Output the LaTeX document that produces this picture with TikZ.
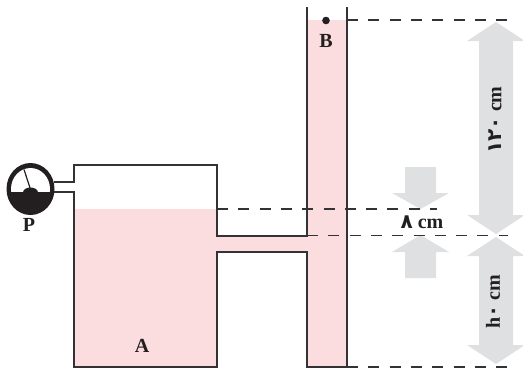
\documentclass[tikz,border=0pt]{standalone}
\usepackage{fontspec}
\setmainfont{Liberation Serif}
\newfontfamily\digitfont{DejaVu Sans}
\definecolor{fluid}{HTML}{FBDDE0}
\definecolor{arrowgray}{HTML}{DFE0E2}
\definecolor{wall}{HTML}{333335}
\definecolor{ink}{HTML}{231F20}

\newcommand{\updown}[6]{% x, tip, head base, shaft end, half head, half shaft
    \fill[arrowgray] (#1,#2) -- (#1+#5,#3) -- (#1+#6,#3) -- (#1+#6,#4)
        -- (#1-#6,#4) -- (#1-#6,#3) -- (#1-#5,#3) -- cycle;
}

\begin{document}
\begin{tikzpicture}[x=1pt,y=-1pt,
    wallline/.style={draw=wall,line width=1.4pt},
    levelline/.style={draw=wall,line width=1.2pt,dash pattern=on 11pt off 10.3pt},
    letter/.style={font=\fontsize{20}{20}\selectfont\bfseries,text=ink,inner sep=0pt},
    sizelabel/.style={font=\fontsize{20}{20}\selectfont\bfseries,text=ink,inner sep=0pt}]
    \useasboundingbox (0,0) rectangle (523,368);

    % fluid
    \fill[fluid] (74,209) -- (217,209) -- (217,236) -- (307,236) -- (307,20) -- (347,20)
        -- (347,367) -- (307,367) -- (307,252) -- (217,252) -- (217,367) -- (74,367) -- cycle;

    % gray arrows
    \updown{496}{22}{41}{125}{29}{17}
    \updown{496}{234}{215}{125}{29}{17}
    \updown{496}{237}{256}{300}{29}{17}
    \updown{496}{364}{345}{300}{29}{17}
    \updown{420.5}{209}{193}{167}{28.5}{15.5}
    \updown{420.5}{235}{252}{278}{28.5}{15.5}

    % level lines
    \coordinate (topL) at (347,20);
    \coordinate (topR) at (508,20);
    \coordinate (liqL) at (217,209);
    \coordinate (liqR) at (437,209);
    \coordinate (pipeL) at (307,235.5);
    \coordinate (pipeR) at (508,235.5);
    \coordinate (botL) at (347,367);
    \coordinate (botR) at (508,367);
    \draw[levelline] (topL) -- (topR);
    \draw[levelline] (liqL) -- (liqR);
    \draw[levelline] (pipeL) -- (pipeR);
    \draw[levelline] (botL) -- (botR);

    % vessel walls
    \draw[wallline] (54,182) -- (74,182) -- (74,165) -- (217,165) -- (217,236) -- (307,236) -- (307,7);
    \draw[wallline] (54,192) -- (74,192) -- (74,367) -- (217,367) -- (217,252) -- (307,252) -- (307,367) -- (347,367);
    \draw[wallline] (347,7) -- (347,367);

    % gauge
    \fill[ink] (30.5,189) ellipse (24 and 26);
    \fill[white] (30.5,189) ellipse (19.5 and 21);
    \begin{scope}
        \clip (30.5,189) ellipse (20 and 21.5);
        \fill[ink] (5,192) rectangle (56,212);
        \fill[ink] (30.5,192.5) ellipse (7.5 and 5);
    \end{scope}
    \foreach \ang in {24,48,72,90,135,157} {
        \draw[ink,line width=1.7pt] ([shift={(\ang:12.5)}]30.5,189) -- ([shift={(\ang:19)}]30.5,189);
    }
    \draw[ink,line width=1.2pt] (30.7,190) -- (24,169.5);

    % point B
    \fill[ink] (326,20.5) circle (3.8);

    % labels
    \node[letter] (P) at (29,225) {P};
    \node[letter] (A) at (142,346) {A};
    \node[letter] (B) at (326,41) {B};
    \node[sizelabel] (small) at (422,222) {{\digitfont ۸} cm};
    \node[sizelabel,rotate=90] (large) at (495,120) {{\digitfont ۱۲۰} cm};
    \node[sizelabel,rotate=90] (height) at (493,302) {h{\digitfont ۰} cm};
\end{tikzpicture}
\end{document}
